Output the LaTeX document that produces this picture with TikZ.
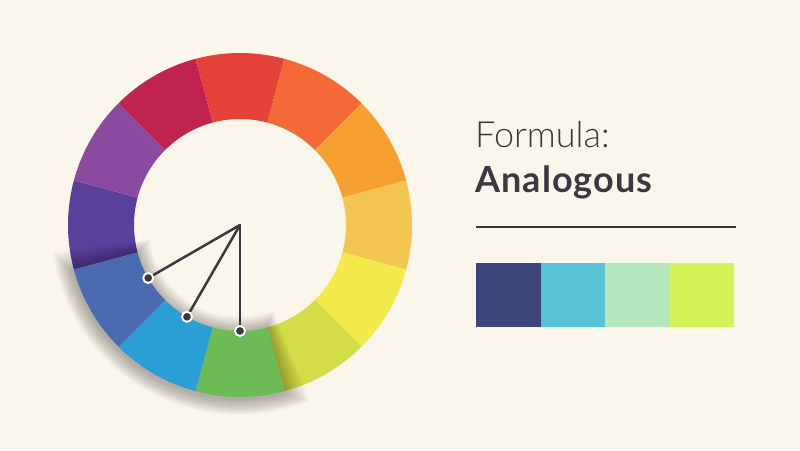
\documentclass[tikz,border=0pt]{standalone}
\usepackage{fontspec}
\setmainfont{Lato}
\newfontfamily\formulafont{Lato Light}
\definecolor{bgcream}{HTML}{FBF6EB}
\definecolor{inkdark}{HTML}{3B383F}
\definecolor{segA}{HTML}{E5433A}
\definecolor{segB}{HTML}{F26836}
\definecolor{segC}{HTML}{F7A032}
\definecolor{segD}{HTML}{F4C550}
\definecolor{segE}{HTML}{F5EA4C}
\definecolor{segF}{HTML}{D3DD48}
\definecolor{segG}{HTML}{6DBB56}
\definecolor{segH}{HTML}{2C9ED6}
\definecolor{segI}{HTML}{4B6BB1}
\definecolor{segJ}{HTML}{5B409B}
\definecolor{segK}{HTML}{8A4A9F}
\definecolor{segL}{HTML}{C0234F}
\definecolor{swA}{HTML}{3C4679}
\definecolor{swB}{HTML}{56C4D5}
\definecolor{swC}{HTML}{B4E9BE}
\definecolor{swD}{HTML}{D3F356}
\begin{document}
\begin{tikzpicture}[x=1pt, y=1pt]
    \tikzset{wheeldot/.style={circle, fill=inkdark, draw=white,
            line width=1.9pt, minimum size=10pt, inner sep=0pt},
        spoke/.style={inkdark, line width=2.5pt, line cap=round},
        title/.style={anchor=base west, inner sep=0pt, text=inkdark,
            font=\fontsize{36}{43}\selectfont}
    }
    \fill[bgcream] (0,0) rectangle (800,450);
    % colour wheel, other segments
    \begin{scope}[shift={(240,225)}]
        \foreach \mid/\col in {90/segA, 60/segB, 30/segC, 0/segD,
            -30/segE, -60/segF, 180/segJ, 150/segK, 120/segL} {
            \fill[\col] (\mid-15:106) arc[start angle=\mid-15,
                end angle=\mid+15, radius=106] -- (\mid+15:172)
                arc[start angle=\mid+15, end angle=\mid-15, radius=172]
                -- cycle;
        }
        % soft shadow under the chosen segments
        \foreach \s in {1,...,16} {
            \fill[black, opacity=0.018, yshift=-2pt, xshift=-1pt]
                (195-\s*0.45:106-\s) arc[start angle=195-\s*0.45,
                end angle=285+\s*0.45, radius=106-\s]
                -- (285+\s*0.45:172+\s)
                arc[start angle=285+\s*0.45, end angle=195-\s*0.45,
                radius=172+\s] -- cycle;
        }
        % chosen segments
        \foreach \mid/\col in {270/segG, 240/segH, 210/segI} {
            \fill[\col] (\mid-15:106) arc[start angle=\mid-15,
                end angle=\mid+15, radius=106] -- (\mid+15:172)
                arc[start angle=\mid+15, end angle=\mid-15, radius=172]
                -- cycle;
        }
        \coordinate (hub) at (0,0);
        \foreach \ang/\name in {210/dA, 240/dB, 270/dC} {
            \coordinate (\name) at (\ang:106);
            \draw[spoke] (hub) -- (\name);
        }
        \foreach \name in {dA, dB, dC} {
            \node[wheeldot] (\name dot) at (\name) {};
        }
    \end{scope}
    % heading
    \node[title] (formula) at (475,302) {\formulafont Formula:};
    \node[title] (kind) at (475,257)
        {\bfseries\addfontfeature{LetterSpace=3}Analogous};
    \coordinate (ruleL) at (476,223);
    \coordinate (ruleR) at (736,223);
    \draw[inkdark, line width=1.4pt] (ruleL) -- (ruleR);
    % palette
    \foreach \i/\col in {0/swA, 1/swB, 2/swC, 3/swD} {
        \fill[\col] (476+\i*64.5,123) rectangle ++(64.5,64);
    }
\end{tikzpicture}
\end{document}
